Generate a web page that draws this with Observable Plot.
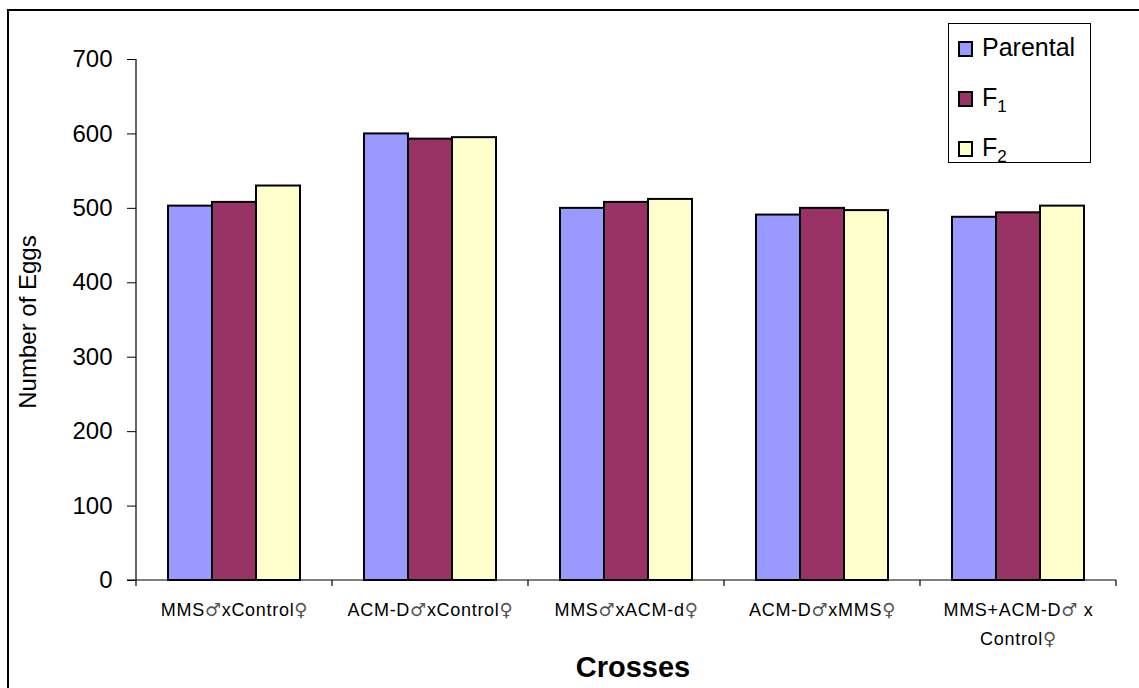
<!DOCTYPE html>
<html>
<head>
<meta charset="utf-8">
<script src="https://cdn.jsdelivr.net/npm/d3@7"></script>
<script src="https://cdn.jsdelivr.net/npm/@observablehq/plot@0.6"></script>
<style>
html, body { margin: 0; padding: 0; background: #fff; }
#wrap { position: relative; width: 1139px; height: 688px; overflow: hidden; font-family: "Liberation Sans", Arial, sans-serif; color: #000; }
#border { position: absolute; left: 7px; top: 9px; width: 1300px; height: 900px; border-left: 2px solid #000; border-top: 2px solid #000; box-sizing: border-box; }
#chart { position: absolute; left: 0; top: 0; }
#legend { position: absolute; left: 948px; top: 23px; width: 143px; height: 140px; border: 1px solid #000; box-sizing: border-box; background: #fff; }
.lg-row { position: absolute; left: 9px; height: 30px; line-height: 30px; font-size: 25px; white-space: nowrap; }
.lg-sw { display: inline-block; width: 15px; height: 16px; border: 2px solid #000; box-sizing: border-box; vertical-align: -1px; margin-right: 9px; }
.lg-row sub { font-size: 17px; vertical-align: -6px; line-height: 0; }
#ytitle { position: absolute; left: 28px; top: 322px; transform: translate(-50%, -50%) rotate(-90deg); font-size: 24px; white-space: nowrap; }
#xtitle { position: absolute; left: 633px; top: 667px; transform: translate(-50%, -50%); font-size: 29px; font-weight: bold; white-space: nowrap; }
</style>
</head>
<body>
<div id="wrap">
  <div id="border"></div>
  <div id="chart"></div>
  <div id="legend"></div>
  <div id="ytitle"></div>
  <div id="xtitle"></div>
</div>
<script>
// ---- data ----
const crosses = ["MMS♂xControl♀", "ACM-D♂xControl♀", "MMS♂xACM-d♀", "ACM-D♂xMMS♀", "MMS+ACM-D♂ x\nControl♀"];
const seriesNames = ["Parental", "F1", "F2"];
const seriesLabels = ["Parental", "F<sub>1</sub>", "F<sub>2</sub>"];
const parental = [503, 600, 500, 491, 488];
const f1 = [508, 593, 508, 500, 494];
const f2 = [530, 595, 512, 497, 503];
const seriesColors = ["#9999FF", "#993366", "#FFFFCC"];
const yTicks = [0, 100, 200, 300, 400, 500, 600, 700];
const xTitle = "Crosses";
const yTitle = "Number of Eggs";

const valuesBySeries = [parental, f1, f2];
const data = crosses.flatMap((c, i) => seriesNames.map((s, j) => ({cross: c, series: s, value: valuesBySeries[j][i]})));

const W = 1139, H = 688;
const plot = Plot.plot({
  width: W, height: H,
  marginLeft: 136, marginRight: 23, marginTop: 59, marginBottom: 108,
  style: {fontFamily: "'Liberation Sans', Arial, sans-serif", background: "transparent", overflow: "visible", color: "#000"},
  fx: {domain: crosses, padding: 0, label: null},
  x: {domain: seriesNames, paddingInner: 0, paddingOuter: 0.72, axis: null},
  y: {domain: [0, 700], label: null},
  color: {domain: seriesNames, range: seriesColors},
  marks: [
    Plot.barY(data, {fx: "cross", x: "series", y: "value", fill: "series", stroke: "#000", strokeWidth: 2}),
    Plot.axisY({ticks: yTicks, tickSize: 9, tickPadding: 15, fontSize: 24, label: null, tickFormat: d => String(d)}),
    Plot.axisFx({anchor: "bottom", tickSize: 0, tickPadding: 15, fontSize: 18, lineHeight: 1.6, label: null})
  ]
});
document.getElementById("chart").appendChild(plot);

// axis lines and category boundary ticks from Plot's own scales
const fx = plot.scale("fx"), y = plot.scale("y");
const svg = d3.select(plot);
const y0 = y.apply(0), yTop = y.apply(d3.max(yTicks));
const bounds = crosses.map(c => fx.apply(c)).concat([fx.apply(crosses[crosses.length - 1]) + fx.bandwidth]);
const g = svg.append("g").attr("stroke", "#000").attr("stroke-width", 1.2);
g.append("line").attr("x1", bounds[0]).attr("x2", bounds[0]).attr("y1", yTop).attr("y2", y0);
g.append("line").attr("x1", bounds[0] - 9).attr("x2", bounds[bounds.length - 1]).attr("y1", y0).attr("y2", y0);
g.selectAll("line.bt").data(bounds).join("line").attr("class", "bt")
  .attr("x1", d => d).attr("x2", d => d).attr("y1", y0).attr("y2", y0 + 6);

// tick label styling: letter spacing and a font with full-size ♂ ♀ glyphs
const NS = "http://www.w3.org/2000/svg";
svg.selectAll("g[aria-label='fx-axis tick label'] text").style("letter-spacing", "0.7px");
svg.selectAll("g[aria-label='fx-axis tick label'] text, g[aria-label='fx-axis tick label'] tspan").each(function () {
  if (this.children.length) return;
  const t = this.textContent;
  if (!/[♂♀]/.test(t)) return;
  this.textContent = "";
  for (const part of t.split(/([♂♀])/)) {
    if (!part) continue;
    const ts = document.createElementNS(NS, "tspan");
    if (/[♂♀]/.test(part)) { ts.setAttribute("font-family", "DejaVu Sans"); ts.setAttribute("fill", "#555"); }
    ts.textContent = part;
    this.appendChild(ts);
  }
});

// legend
const legend = d3.select("#legend");
seriesNames.forEach((s, i) => {
  const row = legend.append("div").attr("class", "lg-row").style("top", (8 + i * 50) + "px");
  row.append("span").attr("class", "lg-sw").style("background", seriesColors[i]);
  row.append("span").html(seriesLabels[i]);
});
d3.select("#ytitle").text(yTitle);
d3.select("#xtitle").text(xTitle);
</script>
</body>
</html>
